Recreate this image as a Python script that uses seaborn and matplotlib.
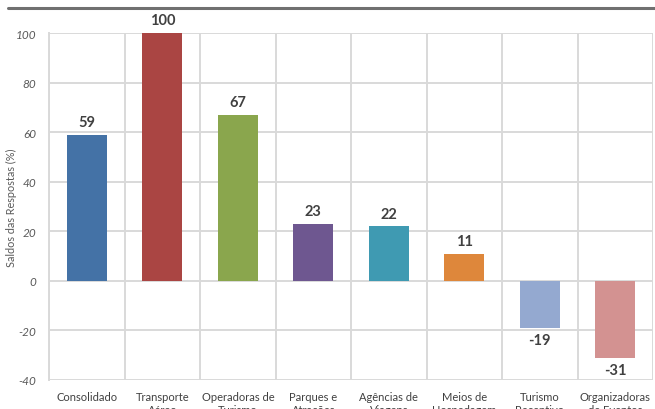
import matplotlib

matplotlib.use("Agg")
import matplotlib.pyplot as plt
import pandas as pd
import seaborn as sns
from matplotlib.lines import Line2D

categories = [
    "Consolidado",
    "Transporte\nAéreo",
    "Operadoras de\nTurismo",
    "Parques e\nAtrações",
    "Agências de\nViagens",
    "Meios de\nHospedagem",
    "Turismo\nReceptivo",
    "Organizadoras\nde Eventos",
]
saldos = [59, 100, 67, 23, 22, 11, -19, -31]
colors = [
    "#4472A6",
    "#AA4543",
    "#8AA64D",
    "#6E5790",
    "#3F9AB2",
    "#DE873B",
    "#94A9D0",
    "#D39291",
]
y_ticks = [-40, -20, 0, 20, 40, 60, 80, 100]

sns.set_style("white")
plt.rcParams["font.family"] = ["Lato", "DejaVu Sans"]

df = pd.DataFrame({"categoria": categories, "saldo": saldos})

fig = plt.figure(figsize=(6.55, 4.1), dpi=100)
ax = fig.add_axes([0.075, 0.071, 0.922, 0.846])

grid_color = "#D9D9D9"
for y in y_ticks:
    ax.axhline(y, color=grid_color, lw=1.4, zorder=0)
for x in range(len(categories) + 1):
    ax.axvline(x - 0.5, color=grid_color, lw=1.4, zorder=0)

sns.barplot(
    data=df,
    x="categoria",
    y="saldo",
    hue="categoria",
    palette=colors,
    legend=False,
    width=0.53,
    saturation=1,
    linewidth=0,
    edgecolor="none",
    ax=ax,
    zorder=2,
)

for i, v in enumerate(saldos):
    ax.annotate(
        str(v),
        (i, v),
        xytext=(0, 4 if v >= 0 else -4),
        textcoords="offset points",
        ha="center",
        va="bottom" if v >= 0 else "top",
        fontsize=10.5,
        fontweight="bold",
        color="#404040",
    )

ax.set_xlim(-0.5, len(categories) - 0.5)
ax.set_ylim(-40, 100)
ax.set_yticks(y_ticks)
ax.set_yticklabels([str(t) for t in y_ticks], fontsize=8.5, style="italic", color="#595959")
ax.tick_params(axis="y", length=4, color=grid_color, width=1.2, pad=5)
ax.tick_params(axis="x", length=0, pad=8, labelsize=8, labelcolor="#404040")
ax.set_xlabel("")
ax.set_ylabel("Saldos das Respostas (%)", fontsize=7.8, color="#595959")
ax.yaxis.set_label_coords(-0.054, 0.5)

for side in ["top", "right", "bottom"]:
    ax.spines[side].set_visible(False)
ax.spines["left"].set_color(grid_color)
ax.spines["left"].set_linewidth(1.4)

fig.add_artist(
    Line2D([0.012, 1.0], [0.977, 0.977], transform=fig.transFigure, color="#707070", lw=2.2)
)

fig.savefig("out.png", dpi=100)
